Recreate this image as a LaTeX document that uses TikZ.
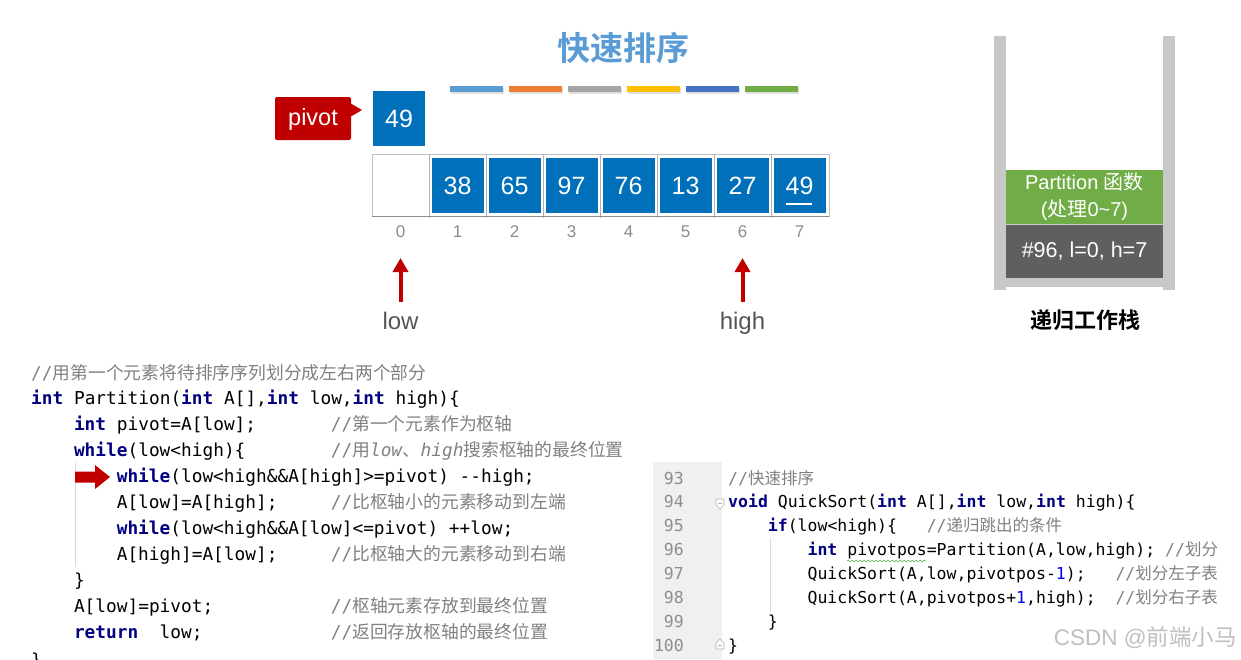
\documentclass[tikz,border=0pt]{standalone}
\usepackage{fontspec}
\usetikzlibrary{arrows.meta,decorations.pathmorphing}
\setmainfont{Liberation Sans}
\setmonofont{DejaVu Sans Mono}
\newfontfamily\cjk{Noto Sans CJK SC}[BoldFont={Noto Sans CJK SC Bold}]
\definecolor{kwc}{HTML}{000080}
\definecolor{cmc}{HTML}{808080}
\definecolor{numc}{HTML}{0000FF}
\definecolor{cellblue}{HTML}{0070BA}
\definecolor{redc}{HTML}{C00000}
\definecolor{titlec}{HTML}{5B9BD5}
\definecolor{wallc}{HTML}{C8C8C8}
\definecolor{greenc}{HTML}{70AD47}
\definecolor{darkc}{HTML}{5F5F5F}
\definecolor{idxc}{HTML}{8C8C8C}
\definecolor{lblc}{HTML}{555555}
\definecolor{gutc}{HTML}{F0F0F0}
\definecolor{barA}{HTML}{5B9BD5}
\definecolor{barB}{HTML}{ED7D31}
\definecolor{barC}{HTML}{A5A5A5}
\definecolor{barD}{HTML}{FFC000}
\definecolor{barE}{HTML}{4472C4}
\definecolor{barF}{HTML}{70AD47}
\newcommand\kw[1]{\textcolor{kwc}{\bfseries #1}}
\newcommand\cmt[1]{\textcolor{cmc}{#1}}
\newcommand\zh[1]{{\cjk #1}}
\tikzset{
  cellbox/.style={fill=cellblue, text=white, minimum width=52pt, minimum height=55pt, inner sep=0pt,
    font=\fontsize{25}{25}\selectfont},
  idxlbl/.style={text=idxc, font=\fontsize{17}{17}\selectfont, inner sep=0pt},
  ptrlbl/.style={text=lblc, anchor=base, font=\fontsize{24}{24}\selectfont, inner sep=0pt},
  redarrow/.style={draw=redc, line width=4pt, -{Triangle[width=15pt,length=14pt]}},
  codeL/.style={anchor=base west, inner sep=0pt, font=\ttfamily\fontsize{17.8}{17.8}\selectfont},
  codeR/.style={anchor=base west, inner sep=0pt, font=\ttfamily\fontsize{16.5}{16.5}\selectfont},
  lineno/.style={anchor=base east, inner sep=0pt, text=cmc!90, font=\ttfamily\fontsize{16.5}{16.5}\selectfont},
}
\begin{document}
\begin{tikzpicture}[x=1pt,y=-1pt]
\useasboundingbox (0,0) rectangle (1241,659);
% title
\node[text=titlec, font=\cjk\bfseries\fontsize{33}{33}\selectfont, inner sep=0pt] (title) at (623,48) {快速排序};
% colour bars
\foreach \c [count=\i from 0] in {barA,barB,barC,barD,barE,barF}{
  \fill[black!12] ({451+59*\i},87.5) rectangle +(53,6);
  \fill[\c] ({450+59*\i},86) rectangle +(53,6);
}
% pivot callout
\fill[redc, rounded corners=2pt] (275,97) rectangle (351,140);
\fill[redc] (350,103) -- (362,110) -- (350,117) -- cycle;
\node[text=white, font=\fontsize{23.5}{23.5}\selectfont, inner sep=0pt] (pivotlbl) at (313,119) {pivot};
\node[cellbox] (p49) at (399,118.5) {49};
% array
\draw[black!25, line width=0.8pt] (372,154) rectangle (829,216);
\foreach \i in {1,...,7}{ \draw[black!30, line width=0.8pt] ({372+57*\i},154) -- ({372+57*\i},218); }
\draw[black!45, line width=1pt] (372,216) -- (829,216);
\foreach \v [count=\i] in {38,65,97,76,13,27,49}{
  \node[cellbox] (c\i) at ({400.5+57*\i},185.5) {\v};
}
\draw[white, line width=1.2pt] (786,204) -- (812,204);
\foreach \i in {0,...,7}{ \node[idxlbl] (i\i) at ({400.5+57*\i},232) {\i}; }
% pointers
\coordinate (lowtail) at (400.5,302);
\coordinate (lowtip) at (400.5,258);
\coordinate (hightail) at (742.5,302);
\coordinate (hightip) at (742.5,258);
\draw[redarrow] (lowtail) -- (lowtip);
\draw[redarrow] (hightail) -- (hightip);
\node[ptrlbl] (lowlbl) at (400.5,329) {low};
\node[ptrlbl] (highlbl) at (742.5,329) {high};
% stack
\fill[wallc] (994,36) rectangle (1006,290);
\fill[wallc] (1163,36) rectangle (1175,290);
\fill[wallc] (1006,278) rectangle (1163,287);
\node[fill=greenc, text=white, minimum width=157pt, minimum height=54pt, inner sep=0pt, align=center,
  font=\fontsize{20}{27}\selectfont] (fn) at (1084.5,197) {Partition \zh{函数}\\(\zh{处理}0\textasciitilde7)};
\node[fill=darkc, text=white, minimum width=157pt, minimum height=54pt, inner sep=0pt,
  font=\fontsize{21.5}{21.5}\selectfont] (frame) at (1084.5,251) {\#96, l=0, h=7};
\draw[white!80!black, line width=0.6pt] (1006,224) -- (1163,224);
\node[font=\cjk\bfseries\fontsize{22}{22}\selectfont, inner sep=0pt] (stacklbl) at (1085,320) {递归工作栈};
% left code
\draw[black!15, line width=0.8pt] (75,463) -- (75,567);
\node[codeL] (l1) at (31,379) {\cmt{//\zh{用第一个元素将待排序序列划分成左右两个部分}}};
\node[codeL] (l2) at (31,404) {\kw{int} Partition(\kw{int} A[],\kw{int} low,\kw{int} high)\{};
\node[codeL] (l3) at (73.8,430) {\kw{int} pivot=A[low];};
\node[codeL] (l3c) at (330.6,430) {\cmt{//\zh{第一个元素作为枢轴}}};
\node[codeL] (l4) at (73.8,456) {\kw{while}(low<high)\{};
\node[codeL] (l4c) at (330.6,456) {\cmt{//\zh{用}\textit{low}\zh{、}\textit{high}\zh{搜索枢轴的最终位置}}};
\node[codeL] (l5) at (116.6,482) {\kw{while}(low<high\&\&A[high]>=pivot) -{}-high;};
\node[codeL] (l6) at (116.6,508) {A[low]=A[high];};
\node[codeL] (l6c) at (330.6,508) {\cmt{//\zh{比枢轴小的元素移动到左端}}};
\node[codeL] (l7) at (116.6,534) {\kw{while}(low<high\&\&A[low]<=pivot) ++low;};
\node[codeL] (l8) at (116.6,560) {A[high]=A[low];};
\node[codeL] (l8c) at (330.6,560) {\cmt{//\zh{比枢轴大的元素移动到右端}}};
\node[codeL] (l9) at (73.8,586) {\}};
\node[codeL] (l10) at (73.8,612) {A[low]=pivot;};
\node[codeL] (l10c) at (330.6,612) {\cmt{//\zh{枢轴元素存放到最终位置}}};
\node[codeL] (l11) at (73.8,638) {\kw{return}\ \ low;};
\node[codeL] (l11c) at (330.6,638) {\cmt{//\zh{返回存放枢轴的最终位置}}};
\node[codeL] (l12) at (31,666) {\}};
% current line arrow
\fill[redc] (75,471.5) -- (95,471.5) -- (95,465) -- (110,477) -- (95,489) -- (95,482.5) -- (75,482.5) -- cycle;
% right code
\fill[gutc] (653,462) rectangle (722,659);
\foreach \n [count=\k from 0] in {93,...,100}{
  \node[lineno] (n\n) at (684,{484+23.9*\k}) {\n};
}
\draw[black!15, line width=0.8pt] (770,538) -- (770,612);
\node[codeR] (r93) at (728,484) {\cmt{//\zh{快速排序}}};
\node[codeR] (r94) at (728,507.9) {\kw{void} QuickSort(\kw{int} A[],\kw{int} low,\kw{int} high)\{};
\node[codeR] (r95) at (767.7,531.8) {\kw{if}(low<high)\{};
\node[codeR] (r95c) at (926.6,531.8) {\cmt{//\zh{递归跳出的条件}}};
\node[codeR] (r96) at (807.4,555.7) {\kw{int} pivotpos=Partition(A,low,high);\ \cmt{//\zh{划分}}};
\node[codeR] (r97) at (807.4,579.6) {QuickSort(A,low,pivotpos-\textcolor{numc}{1});\ \ \ \cmt{//\zh{划分左子表}}};
\node[codeR] (r98) at (807.4,603.5) {QuickSort(A,pivotpos+\textcolor{numc}{1},high);\ \ \cmt{//\zh{划分右子表}}};
\node[codeR] (r99) at (767.7,627.4) {\}};
\node[codeR] (r100) at (728,651.3) {\}};
\draw[green!55!black!70, line width=0.5pt, decorate, decoration={snake, amplitude=0.9pt, segment length=4pt}]
  (847,561) -- (926,561);
% fold markers
\filldraw[fill=white, draw=black!30, line width=0.6pt] (716,499) -- (724,499) -- (724,505) -- (720,509) -- (716,505) -- cycle;
\draw[black!30, line width=0.5pt] (718,503) -- (722,503);
\filldraw[fill=white, draw=black!30, line width=0.6pt] (716,649) -- (724,649) -- (724,643) -- (720,639) -- (716,643) -- cycle;
\draw[black!30, line width=0.5pt] (718,645) -- (722,645);
% watermark
\node[anchor=east, text=black!25, font=\fontsize{22.5}{22.5}\selectfont, inner sep=0pt] (wm) at (1237,638) {CSDN @\zh{前端小马}};
\end{tikzpicture}
\end{document}
